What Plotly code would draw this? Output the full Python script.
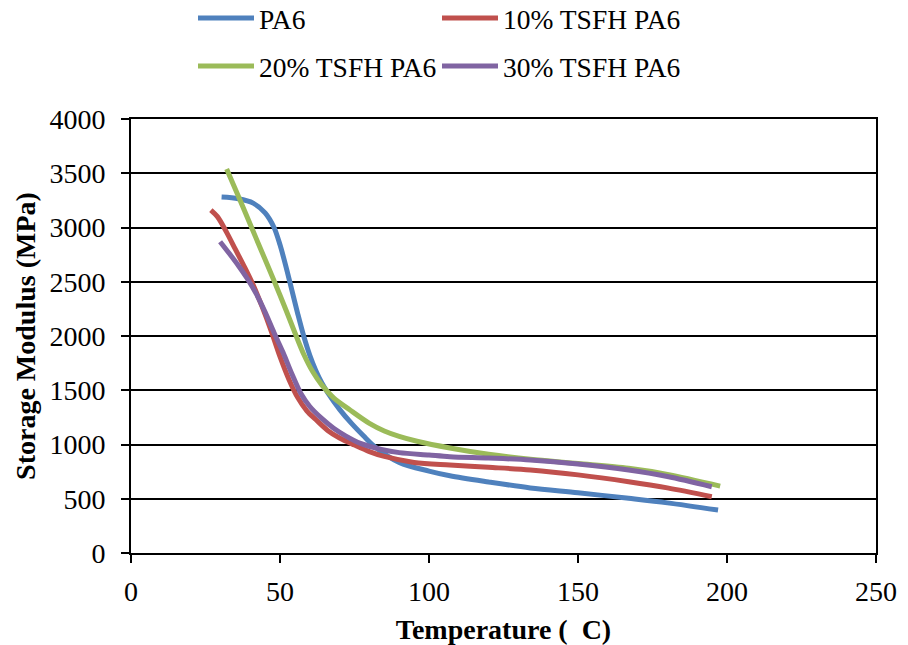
import plotly.graph_objects as go

# ---- data ----
series_names = ["PA6", "10% TSFH PA6", "20% TSFH PA6", "30% TSFH PA6"]
series_colors = ["#4F81BD", "#C0504D", "#9BBB59", "#8064A2"]

pa6_T = [30.4, 36, 41, 45, 48, 50, 52, 54, 56, 58, 60, 62, 64, 66, 70, 74, 78, 82, 90, 100, 107, 120, 134, 150, 167, 180, 197]
pa6_E = [3280, 3265, 3225, 3135, 3000, 2840, 2640, 2420, 2200, 1995, 1822, 1682, 1570, 1478, 1324, 1194, 1080, 975, 835, 755, 712, 655, 600, 555, 504, 462, 396]

t10_T = [26.8, 29, 32, 35, 38, 41, 44, 47, 50, 53, 56, 59, 62, 66, 70, 75, 80, 85, 95, 107, 120, 134, 150, 167, 180, 194.9]
t10_E = [3161, 3100, 2960, 2800, 2640, 2470, 2270, 2050, 1810, 1600, 1430, 1310, 1230, 1130, 1060, 995, 935, 890, 835, 811, 790, 765, 720, 657, 600, 519]

t20_T = [32.1, 36, 40, 44, 48, 52, 55, 58, 61, 64, 68, 73.5, 80, 85, 90, 96, 107, 120, 134, 150, 167, 180, 197.7]
t20_E = [3539, 3290, 3030, 2770, 2510, 2240, 2030, 1830, 1670, 1550, 1430, 1318, 1195, 1125, 1075, 1030, 968, 910, 864, 825, 781, 725, 617]

t30_T = [29.9, 33, 36, 39, 42, 45, 48, 51, 54, 57, 60, 64, 68, 72, 77, 84, 90, 100, 107, 120, 134, 150, 167, 180, 194.9]
t30_E = [2869, 2760, 2650, 2530, 2390, 2220, 2030, 1850, 1650, 1470, 1350, 1240, 1150, 1080, 1010, 955, 925, 903, 888, 875, 857, 820, 765, 705, 611]

x_ticks = [0, 50, 100, 150, 200, 250]
y_ticks = [0, 500, 1000, 1500, 2000, 2500, 3000, 3500, 4000]

x_title = "Temperature (  C)"
y_title = "Storage Modulus (MPa)"

FONT = "Liberation Serif, Times New Roman, serif"
W, H = 908, 645

fig = go.Figure()
legend_ids = ["legend", "legend", "legend2", "legend2"]
for name, color, T, E, lg in zip(series_names, series_colors,
                                 [pa6_T, t10_T, t20_T, t30_T],
                                 [pa6_E, t10_E, t20_E, t30_E], legend_ids):
    fig.add_trace(go.Scatter(x=T, y=E, mode="lines", name=name, legend=lg,
                             line=dict(color=color, width=5, shape="spline", smoothing=0.9)))

legend_common = dict(orientation="h", xref="container", yref="container",
                     xanchor="left", yanchor="middle",
                     entrywidth=173, entrywidthmode="pixels", itemwidth=56,
                     font=dict(family=FONT, size=27.5, color="black"),
                     bgcolor="rgba(0,0,0,0)", traceorder="normal")

fig.update_layout(
    width=W, height=H,
    margin=dict(l=131, r=32, t=119, b=92),
    paper_bgcolor="white", plot_bgcolor="white",
    font=dict(family=FONT, size=28, color="black"),
    legend=dict(legend_common, x=193 / W, y=1 - 18 / H),
    legend2=dict(legend_common, x=193 / W, y=1 - 66 / H),
    xaxis=dict(range=[0, 250], tickvals=x_ticks, ticktext=[str(v) for v in x_ticks],
               showgrid=False, zeroline=False, automargin=False,
               showline=True, linecolor="black", linewidth=2, mirror=True,
               ticks="outside", ticklen=8, tickwidth=2, tickcolor="black",
               ticklabelstandoff=4,
               tickfont=dict(family=FONT, size=28, color="black"),
               title=dict(text="<b>" + x_title + "</b>", standoff=14,
                          font=dict(family=FONT, size=28, color="black"))),
    yaxis=dict(range=[0, 4000], tickvals=y_ticks, ticktext=[str(v) for v in y_ticks],
               showgrid=True, gridcolor="black", gridwidth=1.5, zeroline=False,
               automargin=False,
               showline=True, linecolor="black", linewidth=2, mirror=True,
               ticks="outside", ticklen=8, tickwidth=2, tickcolor="black",
               ticklabelstandoff=10,
               tickfont=dict(family=FONT, size=28, color="black"),
               title=dict(text="<b>" + y_title + "</b>", standoff=6,
                          font=dict(family=FONT, size=28, color="black"))),
)

fig.write_html("out.html")
